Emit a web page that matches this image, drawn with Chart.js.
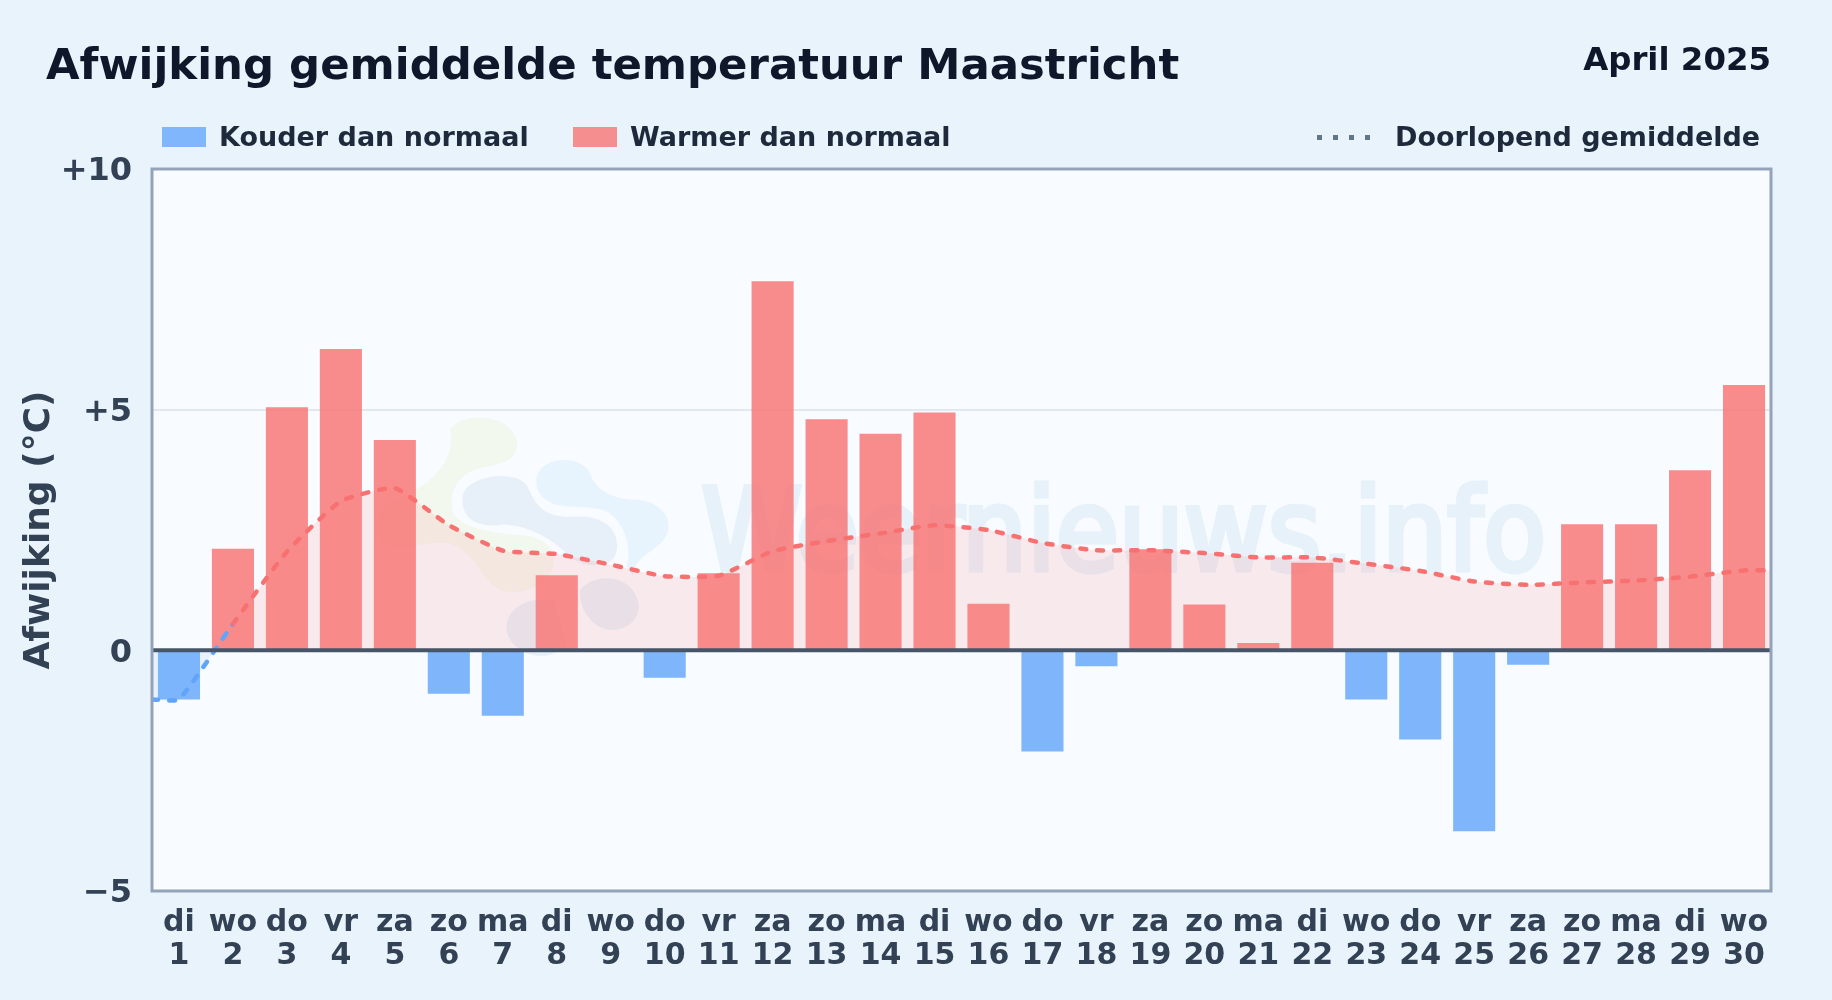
<!DOCTYPE html>
<html lang="nl">
<head>
  <meta charset="UTF-8" />
  <title>Afwijking gemiddelde temperatuur Maastricht</title>
  <script src="https://cdn.jsdelivr.net/npm/chart.js"></script>
  <style>
    body {
      margin: 0;
      width: 1832px;
      height: 1000px;
      overflow: hidden;
      position: relative;
      background: #e8f3fc;
      font-family: 'DejaVu Sans', sans-serif;
      font-weight: bold;
    }

    .abs { position: absolute; white-space: nowrap; line-height: 1; }

    #title { left: 46px; top: 43px; font-size: 43.4px; color: #0f172a; }
    #month { right: 61px; top: 43px; font-size: 32.4px; color: #0f172a; }

    .legend { top: 123px; font-size: 27px; color: #1e293b; }
    .swatch { top: 127px; width: 44px; height: 20px; }

    #plotBg {
      position: absolute;
      left: 152px;
      top: 169px;
      width: 1619px;
      height: 722px;
      background: #f8fbff;
      overflow: hidden;
    }

    #mark {
      left: 549px;
      top: 305px;
      font-family: 'DejaVu Sans Condensed', 'DejaVu Sans', sans-serif;
      font-stretch: condensed;
      font-size: 114px;
      font-weight: normal;
      color: #e7f1fa;
      -webkit-text-stroke: 5px #e7f1fa;
    }

    #logo { position: absolute; left: 188px; top: 221px; }

    canvas { position: absolute; left: 0; top: 0; }
  </style>
</head>
<body>
  <div id="plotBg">
    <svg id="logo" width="360" height="290" viewBox="0 0 1080 870">
      <path fill="#f3f8ef" d="M330 120C350 70 500 60 530 150C540 200 500 220 440 230C370 240 320 290 340 370C360 410 450 430 540 435C620 440 650 480 640 530C620 590 540 620 480 600C420 570 410 490 330 460C270 450 200 480 150 470C90 450 90 370 170 330C260 290 350 220 330 120Z"/>
      <path fill="#e7f0f9" d="M368 320C375 260 520 235 560 285C590 350 610 385 710 380C790 375 840 420 830 480C825 540 730 535 690 500C620 430 540 400 480 405C410 415 360 380 368 320Z"/>
      <path fill="#e7f0f9" d="M720 600C760 550 860 550 890 620C915 680 860 725 810 720C760 715 715 660 720 600Z"/>
      <path fill="#e7f0f9" d="M500 700C510 650 570 620 640 630L680 760C650 800 600 805 560 790C520 770 495 740 500 700Z"/>
      <path fill="#e8f4fd" d="M590 265C600 200 720 190 750 250C770 310 830 330 900 330C970 340 1010 400 970 450C940 490 880 500 880 560L860 530C870 490 870 420 810 370C770 345 700 355 650 345C610 330 585 310 590 265Z"/>
    </svg>
    <div id="mark" class="abs">Weernieuws.info</div>
  </div>

  <canvas id="chart" width="1832" height="1000"></canvas>

  <div id="title" class="abs">Afwijking gemiddelde temperatuur Maastricht</div>
  <div id="month" class="abs">April 2025</div>

  <div class="abs swatch" style="left:162px;background:#80b6fb"></div>
  <div class="abs legend" style="left:219px">Kouder dan normaal</div>
  <div class="abs swatch" style="left:573px;background:#f58f8f"></div>
  <div class="abs legend" style="left:630px">Warmer dan normaal</div>
  <div class="abs" style="left:1317px;top:135px;width:53px;height:5px;background:repeating-linear-gradient(90deg,#64748b 0 5px,transparent 5px 16px)"></div>
  <div class="abs legend" style="left:1395px">Doorlopend gemiddelde</div>

  <script>
    const weekdays = ['di','wo','do','vr','za','zo','ma','di','wo','do','vr','za','zo','ma','di','wo','do','vr','za','zo','ma','di','wo','do','vr','za','zo','ma','di','wo'];
    const days = [1,2,3,4,5,6,7,8,9,10,11,12,13,14,15,16,17,18,19,20,21,22,23,24,25,26,27,28,29,30];
    const deviation = [-1.02,2.11,5.05,6.26,4.37,-0.9,-1.36,1.56,0,-0.57,1.6,7.67,4.8,4.5,4.94,0.97,-2.1,-0.33,2.1,0.95,0.15,1.82,-1.02,-1.85,-3.76,-0.3,2.62,2.62,3.74,5.51];
    const runningMean = [-1.02,0.55,2.05,3.1,3.37,2.6,2.07,2.0,1.78,1.54,1.55,2.06,2.27,2.43,2.6,2.5,2.23,2.08,2.08,2.02,1.93,1.93,1.8,1.65,1.43,1.36,1.41,1.45,1.53,1.66];
    const yTicks = { '10': '+10', '5': '+5', '0': '0', '-5': '\u22125' };

    const RED = 'rgba(248,113,113,0.8)';
    const BLUE = 'rgba(96,165,250,0.8)';
    const TICK = '#334155';

    // line runs on to the frame at both ends
    const linePoints = [
      { x: 0.5, y: runningMean[0] },
      ...days.map((d, i) => ({ x: d, y: runningMean[i] })),
      { x: 30.5, y: runningMean[29] }
    ];

    const framePlugin = {
      id: 'frame',
      afterDatasetsDraw(chart) {
        const { ctx, chartArea: a, scales: { y } } = chart;
        ctx.save();
        ctx.strokeStyle = '#475569';
        ctx.lineWidth = 4;
        ctx.beginPath();
        ctx.moveTo(a.left, y.getPixelForValue(0));
        ctx.lineTo(a.right, y.getPixelForValue(0));
        ctx.stroke();
        ctx.strokeStyle = '#94a3b8';
        ctx.lineWidth = 3;
        ctx.strokeRect(a.left, a.top, a.right - a.left, a.bottom - a.top);
        ctx.restore();
      }
    };

    new Chart(document.getElementById('chart'), {
      data: {
        labels: days.map((d, i) => [weekdays[i], String(d)]),
        datasets: [
          {
            type: 'line',
            data: linePoints,
            xAxisID: 'x2',
            order: 0,
            borderColor: '#f87171',
            borderWidth: 4.5,
            borderDash: [6, 11],
            borderCapStyle: 'round',
            pointRadius: 0,
            tension: 0.15,
            fill: { target: { value: 0 }, above: 'rgba(248,113,113,0.13)', below: 'rgba(96,165,250,0.1)' },
            segment: {
              borderColor: c => c.p0.parsed.y < 0 ? '#60a5fa' : '#f87171'
            }
          },
          {
            type: 'bar',
            data: deviation,
            order: 1,
            grouped: false,
            backgroundColor: deviation.map(v => v < 0 ? BLUE : RED),
            categoryPercentage: 1,
            barPercentage: 0.78
          }
        ]
      },
      options: {
        responsive: false,
        animation: false,
        devicePixelRatio: 1,
        layout: { padding: { top: 169, right: 61, left: 0, bottom: 0 } },
        plugins: {
          legend: { display: false },
          tooltip: { enabled: false },
          filler: { drawTime: 'beforeDatasetsDraw' }
        },
        scales: {
          x: {
            grid: { display: false },
            border: { display: false },
            afterFit: s => { s.height = 109; },
            ticks: {
              color: TICK,
              font: { family: 'DejaVu Sans', weight: 'bold', size: 30, lineHeight: 1.12 },
              maxRotation: 0,
              autoSkip: false,
              padding: 7
            }
          },
          x2: { type: 'linear', min: 0.5, max: 30.5, display: false },
          y: {
            min: -5,
            max: 10,
            afterFit: s => { s.width = 152; },
            border: { display: false },
            grid: {
              drawTicks: false,
              color: c => c.tick.value === 5 ? '#e2e8f0' : 'transparent',
              lineWidth: 2
            },
            ticks: {
              stepSize: 5,
              color: TICK,
              font: { family: 'DejaVu Sans', weight: 'bold', size: 32 },
              padding: 20,
              labelOffset: 3,
              callback: v => yTicks[v]
            },
            title: {
              display: true,
              text: 'Afwijking (\u00b0C)',
              color: TICK,
              font: { family: 'DejaVu Sans', weight: 'bold', size: 36 },
              padding: { top: 18, bottom: 0 }
            }
          }
        }
      },
      plugins: [framePlugin]
    });
  </script>
</body>
</html>
